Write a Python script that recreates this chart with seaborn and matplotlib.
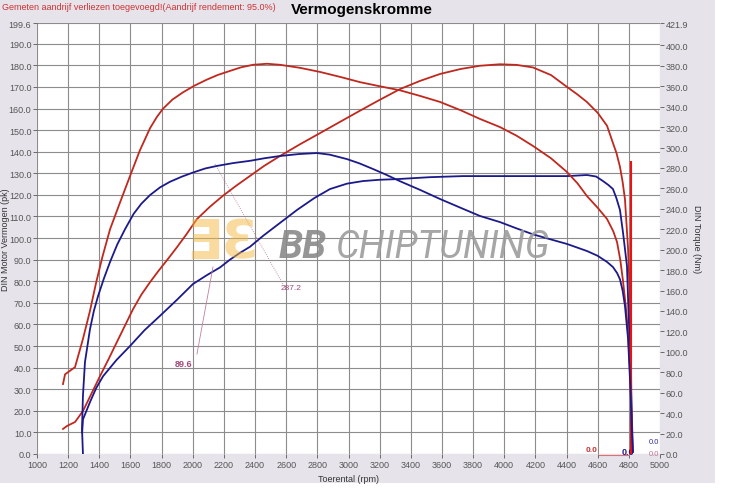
import matplotlib
matplotlib.use("Agg")
import matplotlib.pyplot as plt
import matplotlib.patches as mpatches
import seaborn as sns
import pandas as pd

# ---------------- data ----------------
rt_rpm = [1167, 1180, 1244, 1295, 1340, 1380, 1420, 1469, 1530, 1597, 1660, 1726, 1770, 1809, 1870,
          1937, 2010, 2091, 2160, 2239, 2310, 2387, 2477, 2560, 2689, 2817, 2950, 3074, 3200, 3331,
          3460, 3588, 3720, 3844, 3973, 4080, 4185, 4300, 4403, 4470, 4531, 4600, 4660, 4700,
          4724, 4745, 4762, 4780, 4795, 4806, 4814, 4820]
rt_nm = [68.5, 78, 85, 112.6, 140, 168, 193, 220, 245, 272, 297, 319, 330, 338, 347,
         354, 360.5, 366.5, 371, 375, 378.5, 381, 382, 381, 378, 374, 369, 364, 360, 356,
         350.5, 344.6, 336.5, 328, 320, 311.5, 301.5, 289.5, 276, 265, 252.5, 241, 230, 218,
         207.5, 190, 170, 145, 119, 85, 54, 8]

rp_rpm = [1167, 1193, 1244, 1295, 1350, 1404, 1460, 1514, 1616, 1670, 1726, 1780, 1835, 1899, 1960,
          2027, 2110, 2194, 2280, 2368, 2460, 2560, 2690, 2817, 2950, 3074, 3200, 3331, 3460, 3588,
          3720, 3844, 3973, 4080, 4185, 4300, 4403, 4470, 4531, 4600, 4660, 4698, 4720, 4743, 4760,
          4775, 4795, 4807, 4815, 4818]
rp_pk = [11.6, 13.0, 14.8, 19.9, 28.0, 36.0, 44.0, 52.0, 67.0, 73.8, 79.6, 84.8, 89.8, 95.8, 101.8,
         108.8, 114.5, 119.6, 124.3, 128.8, 133.5, 138.0, 143.5, 148.6, 154.0, 159.0, 164.0, 169.0, 172.8, 176.0,
         178.3, 179.8, 180.5, 180.2, 179.0, 175.5, 170.0, 166.5, 163.0, 158.0, 152.0, 144.0, 139.5, 133.0, 126.0,
         118.0, 95.0, 72.0, 35.0, 3.0]

bt_rpm = [1295, 1289, 1295, 1308, 1340, 1365, 1392, 1430, 1469, 1515, 1565, 1620, 1670, 1726, 1790,
          1854, 1930, 2001, 2080, 2156, 2260, 2368, 2460, 2560, 2680, 2798, 2880, 2990, 3070, 3157,
          3240, 3331, 3460, 3588, 3720, 3844, 3973, 4080, 4185, 4300, 4403, 4531, 4600, 4660, 4698,
          4725, 4743, 4760, 4775, 4795, 4810, 4820, 4826]
bt_nm = [0, 24.5, 57, 90, 122, 140, 154.6, 172, 188, 205, 220, 235, 245, 253.5, 261,
         266.5, 271.5, 275.5, 279.5, 282, 284.8, 287, 289.5, 291.7, 293.6, 294.6, 293, 288.7, 284.5, 279,
         273.5, 267, 258.5, 249.6, 241, 233, 227, 220.8, 215, 210, 205.6, 198.7, 194, 188, 183,
         177, 171, 160, 145, 112.6, 65, 21.5, 2]

bp_rpm = [1290, 1295, 1340, 1380, 1424, 1510, 1597, 1690, 1790, 1900, 2001, 2090, 2175, 2239, 2300,
          2368, 2451, 2560, 2669, 2780, 2881, 2990, 3093, 3200, 3311, 3523, 3735, 3973, 4165, 4403,
          4531, 4590, 4634, 4670, 4698, 4720, 4743, 4762, 4775, 4788, 4795, 4805, 4812, 4826]
bp_pk = [10, 16, 24, 30.5, 36, 43.5, 50, 57.3, 64, 71.5, 78.7, 82.8, 86.4, 90, 93,
         96, 101, 107, 113, 118.5, 122.7, 125.2, 126.4, 127, 127.3, 128.2, 128.7, 128.7, 128.7, 128.7,
         129.2, 128.5, 126.4, 124.5, 122.7, 118.5, 113, 102.8, 95, 87, 72, 50, 35, 1]

cursor_rpm = [4814, 4814]
cursor_pk = [0, 135.2]

x_ticks = list(range(1000, 5001, 200))
left_ticks = [i * 10.0 for i in range(20)] + [199.6]
right_ticks = [i * 20.0 for i in range(21)] + [421.9]

title = "Vermogenskromme"
note = "Gemeten aandrijf verliezen toegevoegd!(Aandrijf rendement: 95.0%)"

RED = "#c0281e"
BLUE = "#1c1a8a"
BG = "#e6e4ea"

plt.rcParams['font.family'] = ['Liberation Sans', 'DejaVu Sans']

fig = plt.figure(figsize=(7.35, 4.89), dpi=100, facecolor="white")
fig.patches.append(mpatches.Rectangle((0, 5 / 489), 715 / 735, 1 - 5 / 489, transform=fig.transFigure,
                                      facecolor=BG, edgecolor="none", zorder=-10))
ax = fig.add_axes([37 / 735, 1 - 455 / 489, (660 - 37) / 735, (455 - 24) / 489])
ax.set_facecolor("white")
ax2 = ax.twinx()

df_rp = pd.DataFrame({"rpm": rp_rpm, "val": rp_pk})
df_bp = pd.DataFrame({"rpm": bp_rpm, "val": bp_pk})
df_rt = pd.DataFrame({"rpm": rt_rpm, "val": rt_nm})
df_bt = pd.DataFrame({"rpm": bt_rpm, "val": bt_nm})

kw = dict(x="rpm", y="val", lw=1.3, sort=False, estimator=None)
sns.lineplot(data=df_rp, ax=ax, color=RED, **kw)
sns.lineplot(data=df_bp, ax=ax, color=BLUE, **kw)
sns.lineplot(data=df_rt, ax=ax2, color=RED, **kw)
sns.lineplot(data=df_bt, ax=ax2, color=BLUE, **kw)
ax.plot(cursor_rpm, cursor_pk, color="#ee1111", lw=1.5, zorder=5)

ax.set_xlim(1000, 5000)
ax.set_ylim(0, 199.6)
ax2.set_ylim(0, 421.9)
ax.set_xticks(x_ticks)
ax.set_xticklabels([str(t) for t in x_ticks])
ax.set_yticks(left_ticks)
ax.set_yticklabels([f"{t:.1f}" for t in left_ticks])
ax2.set_yticks(right_ticks)
ax2.set_yticklabels([f"{t:.1f}" for t in right_ticks])

ax.grid(True, color="#8c8c8c", lw=0.8)
ax.set_axisbelow(True)
for a in (ax, ax2):
    for s in a.spines.values():
        s.set_visible(False)
    a.tick_params(labelsize=6.5, colors="#555555", length=3, width=0.6, pad=1)

ax.set_xlabel("Toerental (rpm)", fontsize=6.5, color="#333333", labelpad=4)
ax.set_ylabel("DIN Motor Vermogen (pk)", fontsize=6.5, color="#333333")
ax2.set_ylabel("DIN Torque (Nm)", fontsize=6.5, color="#333333", rotation=270)
ax.yaxis.set_label_coords(-0.044, 0.5)
ax2.yaxis.set_label_coords(1.066, 0.5)

# annotations
ANN = "#a04878"
ax.plot([2143, 2579], [134.3, 78.7], color="#b07090", lw=0.6, ls=":")
ax.text(2567, 76.9, "287.2", color=ANN, fontsize=6, va="center", ha="left")
ax.plot([2130, 2027], [86.6, 46.3], color="#c080a0", lw=0.6)
ax.text(1886, 42.1, "89.6", color=ANN, fontsize=6.5, fontweight="bold", va="center", ha="left")

ax.plot([4610, 4800], [-0.4, -0.4], color="#e07070", lw=0.8, clip_on=False)
ax.text(4563, 2.3, "0.0", color="#cc3333", fontsize=6, fontweight="bold", ha="center", va="center")
ax.text(4795, 1.3, "0.0", color="#1c1a8a", fontsize=6.5, fontweight="bold", ha="center", va="center")
ax.plot([4860, 4920], [0.1, 0.1], color="#c07090", lw=0.6)
ax.text(4960, 0.1, "0.0", color="#c07090", fontsize=5.5, ha="center", va="center")
ax.text(4960, 5.6, "0.0", color="#3030a0", fontsize=5.5, ha="center", va="center")

# watermark
fig.text(186 / 735, 1 - 243 / 489, "ƎƐ", color="#f5b942", alpha=0.5, fontsize=38,
         fontweight="bold", ha="left", va="center", family="DejaVu Sans", zorder=0)
fig.text(279 / 735, 1 - 247 / 489, "BB", color="#8a8a8a", alpha=0.9, fontsize=28, fontweight="bold",
         style="italic", ha="left", va="center", family="Roboto")
fig.text(336 / 735, 1 - 247 / 489, "CHIPTUNING", color="#9c9c9c", alpha=0.9, fontsize=27,
         fontweight="normal", style="italic", ha="left", va="center", family="Roboto")

fig.text(2 / 735, 1 - 7 / 489, note, color="#cc3333", fontsize=6.5, ha="left", va="center")
fig.text(362 / 735, 1 - 10 / 489, title, color="black", fontsize=11, fontweight="bold",
         ha="center", va="center")

fig.savefig("out.png", dpi=100, facecolor="white")
